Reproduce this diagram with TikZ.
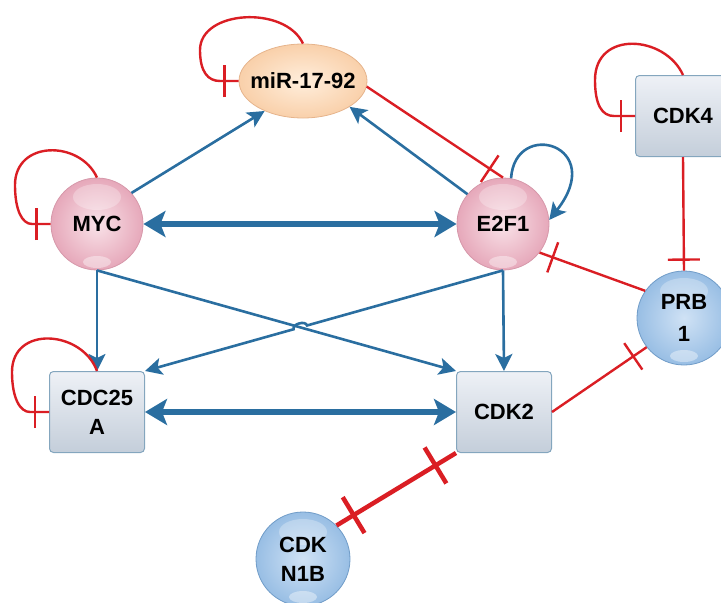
\documentclass[tikz,border=0pt]{standalone}
\usepackage{fontspec}
\setmainfont{Liberation Sans}
\usetikzlibrary{arrows.meta,shapes.geometric,calc,intersections,decorations.markings}
\definecolor{pinkin}{RGB}{249,226,232}
\definecolor{pinkout}{RGB}{230,168,186}
\definecolor{pinkdraw}{RGB}{214,152,170}
\definecolor{bluein}{RGB}{208,226,245}
\definecolor{blueout}{RGB}{152,190,228}
\definecolor{bluedraw}{RGB}{112,156,200}
\definecolor{peachin}{RGB}{255,238,220}
\definecolor{peachout}{RGB}{249,208,170}
\definecolor{peachdraw}{RGB}{230,180,140}
\definecolor{boxtop}{RGB}{238,241,246}
\definecolor{boxbot}{RGB}{196,206,218}
\definecolor{boxdraw}{RGB}{132,166,190}
\definecolor{arrblue}{RGB}{42,110,160}
\definecolor{inhred}{RGB}{218,30,36}
\begin{document}
\begin{tikzpicture}[x=1pt,y=-1pt,
  lbl/.style={font=\fontsize{22}{29}\selectfont\bfseries, align=center, text=black},
  gloss/.style={path picture={
     \fill[white, opacity=0.28] ($(path picture bounding box.center)+(0pt,27pt)$) ellipse (24pt and 13pt);
     \fill[white, opacity=0.4] ($(path picture bounding box.center)+(0pt,-38pt)$) ellipse (14pt and 6pt);}},
  pinksph/.style={circle, minimum size=92pt, inner sep=0pt, draw=pinkdraw, line width=0.8pt, inner color=pinkin, outer color=pinkout, lbl, gloss},
  bluesph/.style={circle, minimum size=94pt, inner sep=0pt, draw=bluedraw, line width=0.8pt, inner color=bluein, outer color=blueout, lbl, gloss},
  peach/.style={ellipse, minimum width=128pt, minimum height=74pt, inner xsep=-10pt, inner ysep=0pt, draw=peachdraw, line width=0.8pt, inner color=peachin, outer color=peachout, lbl},
  gbox/.style={rectangle, rounded corners=4pt, minimum width=95pt, minimum height=81pt, inner sep=0pt, draw=boxdraw, line width=1pt, top color=boxtop, bottom color=boxbot, lbl},
  act/.style={draw=arrblue, line width=2.6pt, -{Stealth[length=17pt,width=17pt,inset=4pt]}},
  bigact/.style={draw=arrblue, line width=5.5pt, {Stealth[length=22pt,width=26pt,inset=5pt]}-{Stealth[length=22pt,width=26pt,inset=5pt]}},
  redline/.style={draw=inhred, line width=2.4pt},
  inh/.style={redline, postaction={decorate, decoration={markings, mark=at position -#1 with {\draw[inhred, line width=2.4pt] (0pt,-16pt) -- (0pt,16pt);}}}},
  inh/.default=14pt,
  dinh/.style={draw=inhred, line width=4.5pt, postaction={decorate, decoration={markings,
     mark=at position 20pt with {\draw[inhred, line width=4.5pt] (0pt,-21pt) -- (0pt,21pt);},
     mark=at position -24pt with {\draw[inhred, line width=4.5pt] (0pt,-21pt) -- (0pt,21pt);}}}}
]
\useasboundingbox (0,0) rectangle (721,603);
\clip (0,0) rectangle (721,603);

% nodes
\node[pinksph] (myc) at (97,224) {MYC};
\node[pinksph] (e2f1) at (503,224) {E2F1};
\node[peach] (mir) at (303,81) {miR-17-92};
\node[gbox] (cdk4) at (683,116) {CDK4};
\node[bluesph] (prb1) at (684,318) {PRB\\[3pt]1};
\node[gbox] (cdc) at (97,412) {CDC25\\A};
\node[gbox] (cdk2) at (504,412) {CDK2};
\node[bluesph] (cdkn) at (303,559) {CDK\\N1B};

% activations
\draw[act] (myc.42) -- (mir.218);
\draw[act] (e2f1.140) -- (mir.331);
\draw[bigact] (myc.east) -- (e2f1.west);
\draw[act] (myc.south) -- (cdc.north);
\draw[act] (myc.south) -- (cdk2.north west);
\draw[act] (e2f1.south) -- (cdk2.north);
\path[name path=lone] (myc.south) -- (cdk2.north west);
\path[name path=ltwo] (e2f1.south) -- (cdc.north east);
\path[name intersections={of=lone and ltwo, by=X}];
\coordinate (hopa) at ($(X)!7pt!(e2f1.south)$);
\coordinate (hopb) at ($(X)!7pt!(cdc.north east)$);
\draw[act] (e2f1.south) -- (hopa) to[bend right=90] (hopb) -- (cdc.north east);
\draw[bigact] (cdc.east) -- (cdk2.west);
\draw[act] (e2f1.80) .. controls (515,118) and (608,145) .. (e2f1.5);

% inhibitions
\draw[inh=16pt] (mir.355) -- (e2f1.north);
\draw[inh] (prb1.145) -- (e2f1.322);
\draw[inh=11pt] (cdk4.south) -- (prb1.north);
\draw[inh=16pt] (cdk2.east) -- (prb1.218);
\draw[dinh] (cdkn.45) -- (cdk2.south west);

% self inhibitions
\draw[inh] (myc.north) .. controls (80,140) and (15,140) .. (15,185) .. controls (15,210) and (22,224) .. (32,224) -- (myc.west);
\draw[inh] (mir.north) .. controls (285,5) and (200,10) .. (200,50) .. controls (200,72) and (208,81) .. (220,81) -- (mir.west);
\draw[inh] (cdk4.north) .. controls (665,35) and (595,30) .. (595,80) .. controls (595,105) and (602,116) .. (614,116) -- (cdk4.west);
\draw[inh] (cdc.north) .. controls (82,330) and (12,325) .. (12,372) .. controls (12,398) and (20,412) .. (30,412) -- (cdc.west);
\end{tikzpicture}
\end{document}
